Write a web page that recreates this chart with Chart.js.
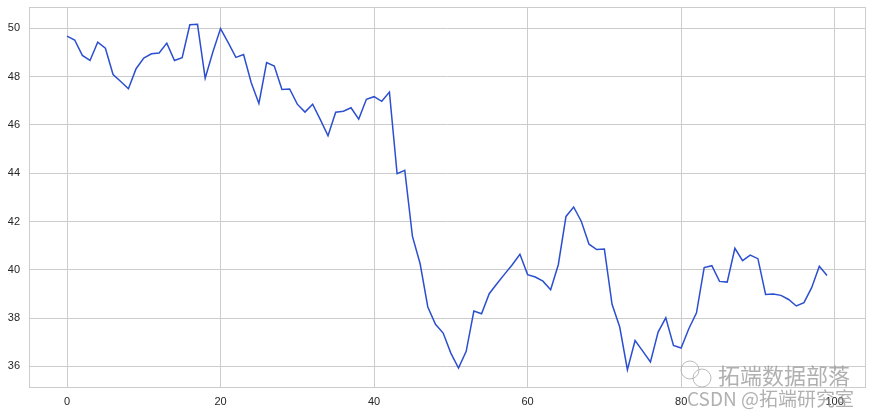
<!DOCTYPE html>
<html>
<head>
<meta charset="utf-8">
<script src="https://cdn.jsdelivr.net/npm/chart.js@4"></script>
<style>
  html, body { margin: 0; padding: 0; background: #fff; }
  #wrap { width: 873px; height: 414px; position: relative; }
</style>
</head>
<body>
<div id="wrap"><canvas id="priceChart"></canvas></div>
<script>
// values, one per step 0..99
const prices = [
  49.68, 49.52, 48.88, 48.67, 49.43, 49.18, 48.09, 47.80, 47.50, 48.33,
  48.77, 48.95, 48.98, 49.39, 48.67, 48.79, 50.15, 50.17, 47.94, 49.02,
  49.99, 49.41, 48.80, 48.92, 47.75, 46.89, 48.58, 48.44, 47.47, 47.49,
  46.86, 46.53, 46.86, 46.22, 45.55, 46.53, 46.57, 46.71, 46.24, 47.06,
  47.17, 46.98, 47.36, 43.98, 44.12, 41.38, 40.25, 38.46, 37.74, 37.38,
  36.55, 35.93, 36.62, 38.29, 38.18, 39.01, 39.42, 39.82, 40.21, 40.64,
  39.80, 39.70, 39.53, 39.17, 40.21, 42.21, 42.60, 42.00, 41.06, 40.84,
  40.86, 38.57, 37.63, 35.86, 37.07, 36.63, 36.18, 37.42, 38.01, 36.87,
  36.76, 37.56, 38.22, 40.09, 40.17, 39.52, 39.49, 40.89, 40.38, 40.61,
  40.46, 38.98, 39.00, 38.94, 38.77, 38.50, 38.64, 39.26, 40.15, 39.76
];
const steps = prices.map((_, i) => i);
const xTicks = [0, 20, 40, 60, 80, 100];
const yTicks = [36, 38, 40, 42, 44, 46, 48, 50];

const GRID = "#cccccc";
const TEXT = "#262626";
const LINE = "#2b4fcf";

// matplotlib-style 5% margins around the data
const xSpan = steps[steps.length - 1] - steps[0];
const yMin = Math.min(...prices), yMax = Math.max(...prices);
const ySpan = yMax - yMin;

const frame = {
  id: "frame",
  afterDraw(chart) {
    const { ctx, chartArea: a } = chart;
    ctx.save();
    ctx.strokeStyle = GRID;
    ctx.lineWidth = 1;
    ctx.strokeRect(a.left + 0.5, a.top + 0.5, a.right - a.left, a.bottom - a.top);
    ctx.restore();
  }
};

const watermark = {
  id: "watermark",
  afterDraw(chart) {
    const { ctx } = chart;
    ctx.save();
    ctx.fillStyle = "rgba(150,150,150,0.75)";
    ctx.textBaseline = "alphabetic";
    ctx.font = '22px "Noto Sans CJK SC", sans-serif';
    ctx.fillText("拓端数据部落", 718, 384);
    ctx.font = '19px "Noto Sans CJK SC", "Liberation Sans", sans-serif';
    ctx.fillText("CSDN @拓端研究室", 687, 406);
    // wechat-like bubbles
    ctx.strokeStyle = "rgba(170,170,170,0.8)";
    ctx.lineWidth = 1;
    ctx.beginPath(); ctx.arc(690, 370, 9, 0, Math.PI * 2); ctx.stroke();
    ctx.beginPath(); ctx.arc(702, 378, 9, 0, Math.PI * 2); ctx.stroke();
    ctx.restore();
  }
};

const noPad = (s) => {
  s.paddingTop = 0; s.paddingBottom = 0;
  s.paddingLeft = 0; s.paddingRight = 0;
};

new Chart(document.getElementById("priceChart"), {
  type: "line",
  data: {
    datasets: [{
      data: steps.map((x, i) => ({ x, y: prices[i] })),
      borderColor: LINE,
      borderWidth: 1.5,
      pointRadius: 0,
      tension: 0,
      fill: false
    }]
  },
  options: {
    responsive: true,
    maintainAspectRatio: false,
    animation: false,
    layout: { padding: { top: 7, right: 8, left: 0, bottom: 0 } },
    plugins: { legend: { display: false }, tooltip: { enabled: false } },
    scales: {
      x: {
        type: "linear",
        min: steps[0] - 0.05 * xSpan,
        max: steps[steps.length - 1] + 0.05 * xSpan,
        afterBuildTicks: (s) => { s.ticks = xTicks.map(v => ({ value: v })); },
        afterFit: (s) => { s.height = 27; noPad(s); },
        grid: { color: GRID, drawTicks: false },
        border: { color: GRID },
        ticks: {
          color: TEXT, padding: 8,
          font: { family: '"Liberation Sans", Arial, sans-serif', size: 11 }
        }
      },
      y: {
        min: yMin - 0.05 * ySpan,
        max: yMax + 0.05 * ySpan,
        afterBuildTicks: (s) => { s.ticks = yTicks.map(v => ({ value: v })); },
        afterFit: (s) => { s.width = 29; noPad(s); },
        grid: { color: GRID, drawTicks: false },
        border: { color: GRID },
        ticks: {
          color: TEXT, padding: 9,
          font: { family: '"Liberation Sans", Arial, sans-serif', size: 11 }
        }
      }
    }
  },
  plugins: [frame, watermark]
});
</script>
</body>
</html>
